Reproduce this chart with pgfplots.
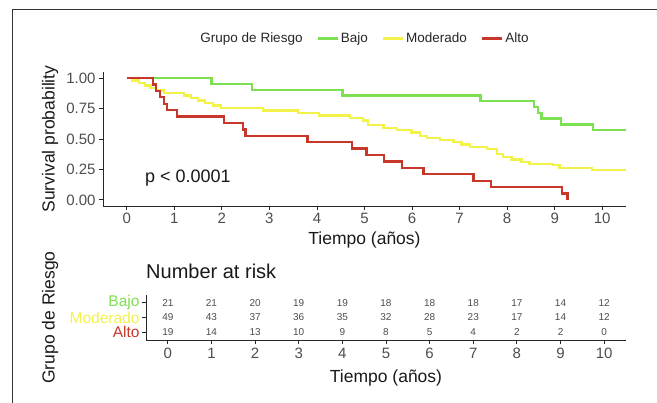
\documentclass[border=0pt]{standalone}
\usepackage{pgfplots}
\pgfplotsset{compat=1.18}
\usepackage{fontspec}
\setmainfont{Liberation Sans}
\definecolor{cBajo}{HTML}{7DDF52}
\definecolor{cMod}{HTML}{F2F24A}
\definecolor{cAlto}{HTML}{C8372A}
\definecolor{tickc}{HTML}{4D4D4D}
\newcommand{\fs}[1]{\fontsize{#1}{#1}\selectfont}

\pgfplotstableread{
x y
0 1
1.78 0.952
2.64 0.905
4.54 0.857
7.44 0.810
8.56 0.762
8.65 0.714
8.72 0.667
9.14 0.619
9.80 0.571
10.5 0.571
}\bajo

\pgfplotstableread{
x y
0 1.000
0.12 0.980
0.25 0.959
0.38 0.939
0.50 0.918
0.62 0.898
0.78 0.878
1.20 0.857
1.35 0.837
1.50 0.816
1.65 0.796
1.82 0.776
1.98 0.755
2.86 0.735
3.60 0.714
4.05 0.694
4.69 0.673
4.97 0.653
5.08 0.612
5.40 0.592
5.68 0.571
5.99 0.553
6.17 0.525
6.31 0.506
6.59 0.492
6.87 0.476
7.04 0.456
7.22 0.434
7.57 0.415
7.78 0.379
7.92 0.352
8.09 0.332
8.30 0.310
8.47 0.296
8.97 0.285
9.10 0.263
9.78 0.244
10.5 0.244
}\moderado

\pgfplotstableread{
x y
0 1
0.55 0.947
0.62 0.895
0.70 0.842
0.78 0.789
0.85 0.737
1.05 0.684
2.04 0.632
2.45 0.579
2.50 0.526
3.80 0.474
4.74 0.421
5.04 0.368
5.41 0.316
5.79 0.263
6.24 0.211
7.29 0.158
7.66 0.105
9.16 0.053
9.27 0.0
}\alto

\pgfplotstableread{
x y n
0 3 21
1 3 21
2 3 20
3 3 19
4 3 19
5 3 18
6 3 18
7 3 18
8 3 17
9 3 14
10 3 12
0 2 49
1 2 43
2 2 37
3 2 36
4 2 35
5 2 32
6 2 28
7 2 23
8 2 17
9 2 14
10 2 12
0 1 19
1 1 14
2 1 13
3 1 10
4 1 9
5 1 8
6 1 5
7 1 4
8 1 2
9 1 2
10 1 0
}\risk

\begin{document}
\begin{tikzpicture}
\path[use as bounding box] (0,0) rectangle (657pt,403pt);
\draw[line width=1pt, black!80] (12.5pt,0pt) -- (12.5pt,393pt) -- (657pt,393pt);

\begin{axis}[
  at={(103pt,197pt)}, anchor=south west,
  scale only axis, width=523pt, height=134pt,
  xmin=-0.5, xmax=10.5, ymin=-0.05, ymax=1.05,
  axis x line*=bottom, axis y line*=left,
  axis line style={line width=0.9pt, black!85},
  tick style={line width=0.9pt, black!85},
  tick align=outside, major tick length=4pt,
  xtick={0,...,10}, ytick={0,0.25,0.5,0.75,1},
  yticklabels={0.00,0.25,0.50,0.75,1.00},
  ticklabel style={font=\fs{15}, text=tickc},
  /pgf/number format/assume math mode=true,
  xlabel={Tiempo (años)}, ylabel={Survival probability},
  label style={font=\fs{17.5}, text=black!90},
  xlabel style={at={(axis description cs:0.5,-0.254)}, anchor=center},
  ylabel style={at={(axis description cs:-0.101,0.5)}, anchor=center},
  legend columns=-1,
  legend style={draw=none, fill=none, at={(axis description cs:0.5,1.25)}, anchor=center,
    font=\fs{13.5}, text=black!85, /tikz/every even column/.append style={column sep=12pt}},
  legend image code/.code={\draw[#1] (0pt,0pt) -- (20pt,0pt);},
]
\addlegendimage{empty legend}
\addlegendentry{Grupo de Riesgo}
\addplot[const plot, cBajo, line width=2.3pt] table {\bajo};
\addlegendentry{Bajo}
\addplot[const plot, cMod, line width=2.3pt] table {\moderado};
\addlegendentry{Moderado}
\addplot[const plot, cAlto, line width=2.3pt] table {\alto};
\addlegendentry{Alto}
\node[anchor=west, font=\fs{18}, text=black!90, inner sep=0pt] at (axis cs:0.38,0.18) {p < 0.0001};
\end{axis}

\begin{axis}[
  at={(146pt,62.6pt)}, anchor=south west,
  scale only axis, width=480pt, height=45.8pt,
  xmin=-0.5, xmax=10.5, ymin=0.45, ymax=3.55,
  axis x line*=bottom, axis y line*=left,
  axis line style={line width=0.9pt, black!85},
  tick style={line width=0.9pt, black!85},
  tick align=outside, major tick length=4pt,
  xtick={0,...,10}, ytick={1,2,3},
  yticklabels={\textcolor{cAlto}{Alto},\textcolor{cMod}{Moderado},\textcolor{cBajo}{Bajo}},
  xticklabel style={font=\fs{15}, text=tickc},
  yticklabel style={font=\fs{15.5}, inner sep=0.3pt, xshift=-2pt},
  /pgf/number format/assume math mode=true,
  xlabel={Tiempo (años)}, ylabel={Grupo de Riesgo},
  label style={font=\fs{17.5}, text=black!90},
  xlabel style={at={(axis description cs:0.5,-0.82)}, anchor=center},
  ylabel style={at={(axis description cs:-0.2,0.5)}, anchor=center},
  title={Number at risk},
  title style={at={(axis description cs:0,1.384)}, anchor=west, font=\fs{20}, text=black!90, inner sep=0pt},
]
\addplot[only marks, mark=*, mark size=0pt, mark options={draw=none, fill=none},
  point meta=explicit symbolic,
  nodes near coords={\pgfplotspointmeta},
  every node near coord/.style={anchor=center, font=\fs{10}, text=black!70}]
  table[x=x, y=y, meta=n] {\risk};
\end{axis}
\end{tikzpicture}
\end{document}
